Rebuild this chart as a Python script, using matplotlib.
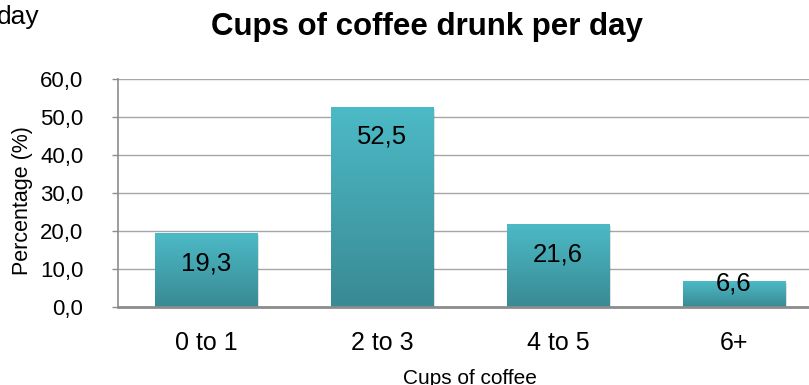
import numpy as np
import matplotlib
matplotlib.use("Agg")
import matplotlib.pyplot as plt
from matplotlib.colors import LinearSegmentedColormap

plt.rcParams['font.family'] = ['Liberation Sans', 'DejaVu Sans']

# data
categories = ['0 to 1', '2 to 3', '4 to 5', '6+']
percent = [19.3, 52.5, 21.6, 6.6]
yticks = [0, 10, 20, 30, 40, 50, 60]

def comma(v):
    return f"{v:.1f}".replace('.', ',')

fig = plt.figure(figsize=(8.09, 3.85), dpi=100)
ax = fig.add_axes([118/809, 1 - 307/385, 704/809, 228/385])

x = np.arange(len(categories))
bars = ax.bar(x, percent, width=0.58, color='none', zorder=3)

# teal gradient per bar, dark at the bottom
grad = LinearSegmentedColormap.from_list('teal', ['#398a94', '#4cbac6'])
g = np.linspace(0, 1, 100).reshape(-1, 1)
for b in bars:
    x0, y0 = b.get_x(), b.get_y()
    x1, y1 = x0 + b.get_width(), y0 + b.get_height()
    # soft shadow
    ax.bar(b.get_x() + b.get_width() / 2 + 0.012, b.get_height(), width=b.get_width(),
           bottom=-0.4, color='#000000', alpha=0.12, zorder=2)
    ax.imshow(g, cmap=grad, origin='lower', extent=(x0, x1, y0, y1),
              aspect='auto', zorder=3)

ax.set_xlim(-0.5, 3.5)
ax.set_ylim(0, 60)
ax.set_yticks(yticks)
ax.set_yticklabels([comma(t) for t in yticks])
ax.set_xticks(x)
ax.set_xticklabels(categories)

ax.yaxis.grid(True, color='#a6a6a6', linewidth=1.0, zorder=0)
ax.set_axisbelow(True)
for s in ['top', 'right']:
    ax.spines[s].set_visible(False)
ax.spines['left'].set_color('#8c8c8c')
ax.spines['left'].set_linewidth(1.2)
ax.spines['bottom'].set_color('#8c8c8c')
ax.spines['bottom'].set_linewidth(2.0)
ax.spines['bottom'].set_zorder(4)

ax.tick_params(axis='y', length=4, width=1.0, color='#8c8c8c', pad=21, labelsize=16)
ax.tick_params(axis='x', length=0, pad=17, labelsize=18)

for xi, v in zip(x, percent):
    ax.text(xi, max(v - 4.6, 9.3), comma(v), ha='center', va='top', fontsize=18.5,
            color='black', zorder=5)

ax.set_xlabel('Cups of coffee', fontsize=15, labelpad=10)
ax.set_ylabel('Percentage (%)', fontsize=15.5)
ax.yaxis.set_label_coords(-0.121, 0.465)

fig.text(427/809, 1 - 12/385, 'Cups of coffee drunk per day', ha='center', va='top',
         fontsize=22.5, fontweight='bold')
fig.text(40/809, 1 - 24/385, 'day', ha='right', va='baseline', fontsize=19)

fig.savefig('out.png', dpi=100)
